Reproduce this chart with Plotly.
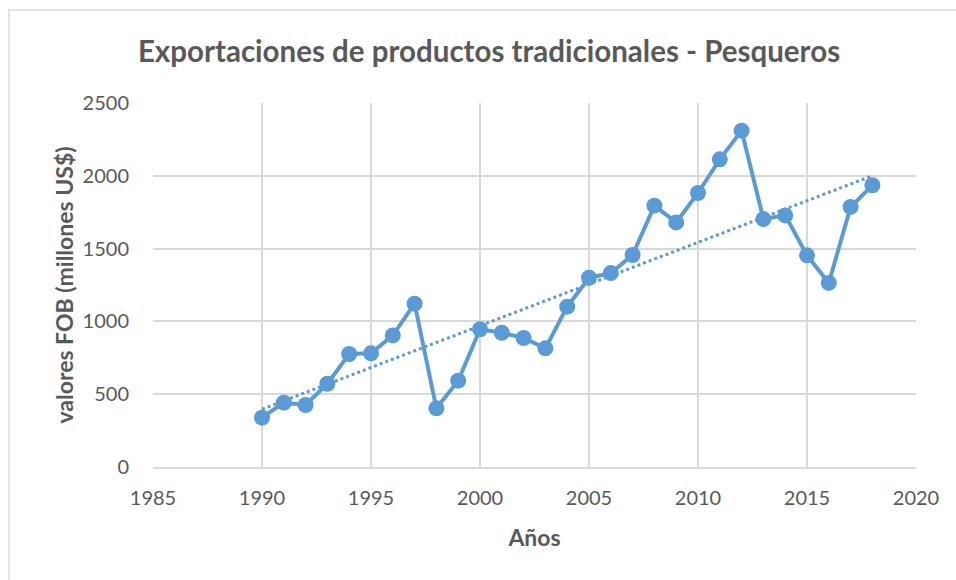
import numpy as np
import plotly.graph_objects as go

years = list(range(1990, 2019))
valores = [339, 442, 426, 572, 776, 781, 904, 1122, 403, 593,
           946, 922, 886, 815, 1101, 1300, 1332, 1456, 1795, 1680,
           1882, 2113, 2310, 1703, 1728, 1454, 1264, 1786, 1935]
x_ticks = [1985, 1990, 1995, 2000, 2005, 2010, 2015, 2020]
y_ticks = [0, 500, 1000, 1500, 2000, 2500]

title_text = "Exportaciones de productos tradicionales - Pesqueros"
x_title = "Años"
y_title = "valores FOB (millones US$)"

# linear trendline (least squares, as in Excel)
slope, intercept = np.polyfit(years, valores, 1)
trend_x = [years[0], years[-1]]
trend_y = [slope * x + intercept for x in trend_x]

BLUE = "#5B9BD5"
GREY = "#595959"
GRID = "#D9D9D9"
FONT = "Lato, 'Open Sans', sans-serif"

fig = go.Figure()
fig.add_trace(go.Scatter(
    x=trend_x, y=trend_y, mode="lines",
    line=dict(color=BLUE, width=3, dash="dot"),
    hoverinfo="skip", showlegend=False,
))
fig.add_trace(go.Scatter(
    x=years, y=valores, mode="lines+markers",
    line=dict(color=BLUE, width=4),
    marker=dict(color=BLUE, size=16),
    showlegend=False,
))

fig.update_layout(
    width=956, height=580,
    margin=dict(l=153, r=40, t=103, b=113),
    paper_bgcolor="white", plot_bgcolor="white",
    font=dict(family=FONT, color=GREY, size=20),
    title=dict(text="<b>" + title_text + "</b>", x=489 / 956, xref="container",
               xanchor="center", y=1 - 52 / 580, yanchor="middle",
               font=dict(family=FONT, size=29.5, color=GREY)),
    xaxis=dict(
        range=[1985, 2020], tickvals=x_ticks, ticktext=[str(t) for t in x_ticks],
        showgrid=True, gridcolor=GRID, gridwidth=2,
        showline=True, linecolor=GRID, linewidth=2,
        zeroline=False, ticks="", ticklabelstandoff=12,
        title=dict(text="<b>" + x_title + "</b>", font=dict(size=23, color=GREY), standoff=22),
    ),
    yaxis=dict(
        range=[0, 2500], tickvals=y_ticks, ticktext=[str(t) for t in y_ticks],
        showgrid=True, gridcolor=GRID, gridwidth=2,
        showline=False, zeroline=False, ticks="", ticklabelstandoff=23,
        title=dict(text="<b>" + y_title + "</b>", font=dict(size=23, color=GREY), standoff=2),
    ),
    shapes=[dict(
        type="rect", xref="paper", yref="paper",
        x0=(9 - 153) / (956 - 193), x1=(960 - 153) / (956 - 193),
        y0=(467 - 590) / 364, y1=(467 - 10) / 364,
        line=dict(color=GRID, width=1.5), fillcolor="rgba(0,0,0,0)", layer="below",
    )],
)

fig.write_html("out.html", config={"displayModeBar": False},
               post_script="document.body.style.margin='0';")
